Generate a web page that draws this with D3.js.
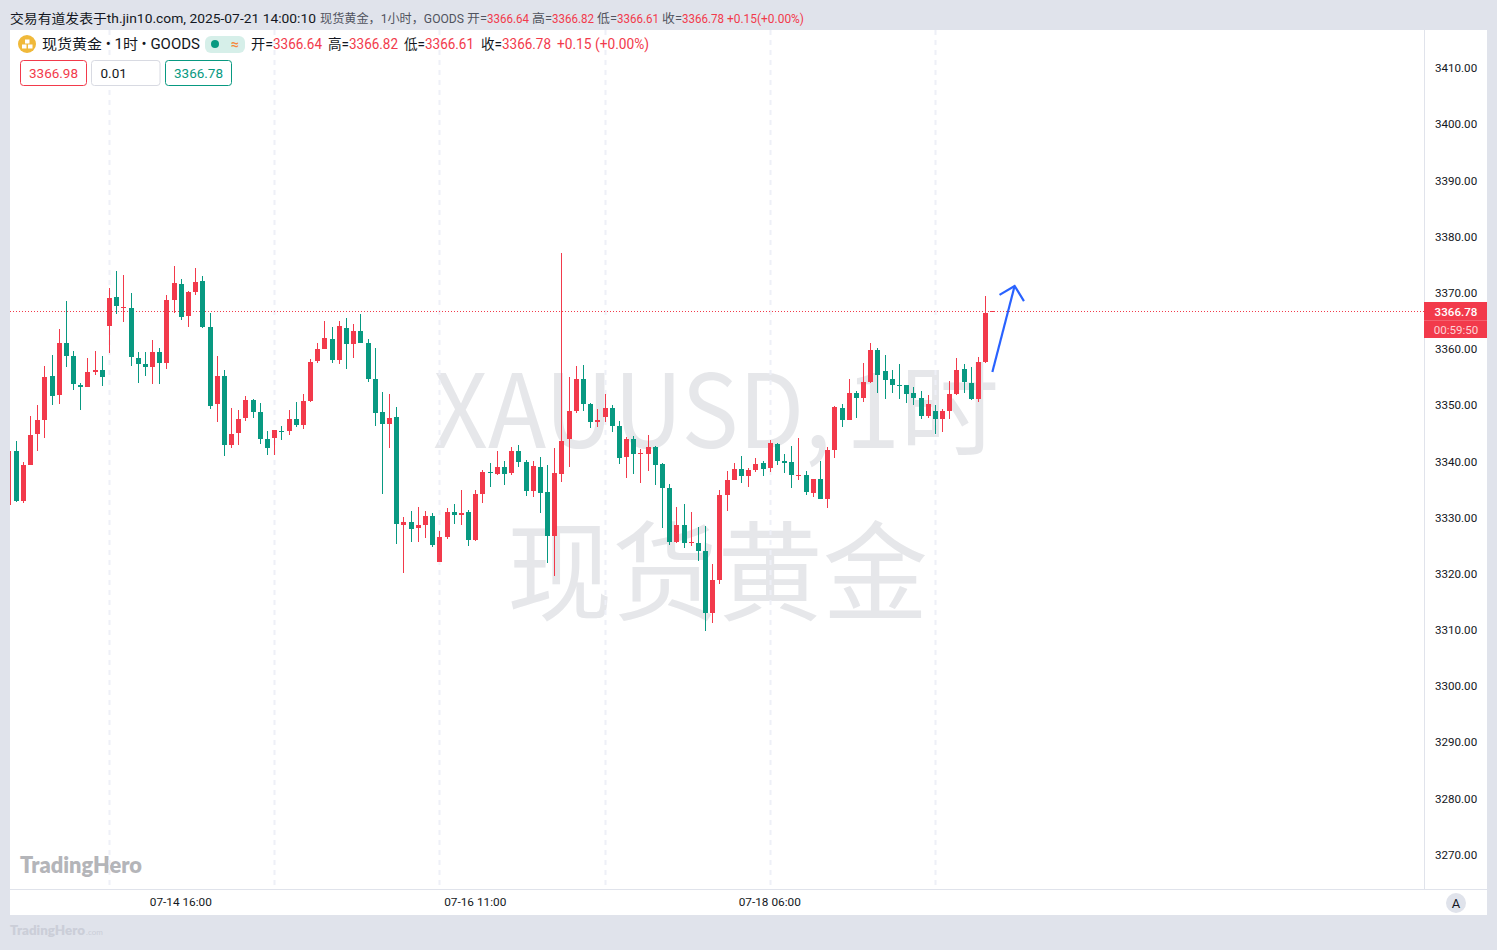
<!DOCTYPE html>
<html><head><meta charset="utf-8">
<script src="https://cdn.jsdelivr.net/npm/d3@7"></script>
<style>html,body{margin:0;padding:0;background:#e0e3eb;overflow:hidden}svg{display:block}text{font-family:Roboto,"Noto Sans CJK SC",sans-serif}</style>
</head><body><svg id="c" width="1497" height="950"></svg>
<script>
const open=[3332.30,3341.91,3333.01,3339.42,3344.94,3347.43,3355.26,3351.88,3361.14,3358.82,3353.66,3353.30,3355.98,3356.33,3364.16,3369.32,3367.37,3367.37,3358.47,3357.40,3356.87,3359.53,3357.58,3368.79,3371.64,3365.94,3370.21,3372.17,3363.98,3350.28,3355.26,3342.98,3345.12,3347.79,3350.99,3348.86,3344.05,3344.23,3345.47,3345.47,3347.61,3346.54,3350.81,3357.93,3360.07,3361.85,3358.11,3363.81,3360.96,3363.27,3361.14,3354.73,3348.86,3346.72,3347.97,3328.74,3329.28,3328.21,3328.74,3330.34,3322.16,3326.61,3331.06,3330.52,3331.06,3326.07,3334.26,3338.18,3337.82,3339.07,3338.00,3341.91,3339.95,3334.79,3339.07,3334.62,3326.79,3337.82,3344.05,3349.03,3354.73,3350.28,3347.07,3347.96,3349.57,3346.36,3340.85,3344.05,3341.38,3341.38,3342.62,3339.60,3335.33,3325.72,3328.74,3325.54,3325.54,3324.11,3313.08,3318.95,3334.08,3336.75,3338.71,3337.46,3338.53,3339.78,3338.89,3343.16,3340.13,3339.95,3337.46,3337.64,3334.44,3336.93,3333.37,3342.09,3349.57,3347.43,3352.24,3351.35,3354.19,3359.89,3356.15,3354.73,3353.66,3353.66,3352.24,3351.35,3348.14,3349.03,3347.61,3349.03,3352.06,3356.51,3354.02,3351.17,3357.76,3366.64];
const high=[3341.91,3343.69,3339.96,3348.14,3350.10,3357.04,3358.98,3363.63,3368.61,3359.71,3354.02,3358.47,3359.71,3358.82,3370.93,3373.95,3373.24,3370.04,3359.53,3359.53,3361.67,3360.25,3369.68,3374.84,3372.53,3370.39,3374.49,3373.06,3366.48,3358.82,3356.33,3349.57,3349.21,3351.70,3351.17,3350.46,3345.47,3345.65,3346.36,3349.21,3350.63,3352.06,3358.29,3361.14,3365.05,3363.98,3365.05,3365.59,3364.52,3366.30,3361.85,3360.25,3352.41,3352.06,3349.75,3330.17,3331.23,3331.95,3331.23,3330.88,3327.67,3331.77,3332.48,3334.97,3331.41,3334.97,3338.53,3339.78,3341.91,3340.13,3342.63,3342.98,3340.31,3340.13,3340.84,3339.42,3342.45,3377.16,3355.08,3357.04,3357.22,3350.46,3349.39,3352.06,3350.10,3347.25,3344.40,3344.58,3342.27,3344.76,3342.80,3339.78,3336.04,3331.95,3332.48,3331.06,3328.39,3328.56,3321.80,3334.97,3338.35,3339.78,3341.02,3338.89,3340.67,3340.13,3343.87,3343.34,3341.38,3342.80,3344.23,3338.35,3336.93,3340.13,3342.62,3349.92,3350.28,3354.73,3352.59,3357.58,3361.14,3360.25,3359.00,3356.33,3357.40,3353.66,3353.30,3352.59,3351.88,3350.10,3349.39,3354.37,3358.47,3357.40,3356.87,3358.64,3369.50,3366.82];
const low=[3332.30,3332.84,3332.66,3339.42,3341.91,3344.23,3350.10,3350.28,3356.87,3352.77,3349.21,3353.30,3355.44,3353.48,3359.36,3366.30,3364.87,3357.04,3354.02,3355.26,3353.84,3353.84,3356.51,3366.48,3365.23,3363.98,3369.68,3363.81,3349.39,3347.07,3341.00,3342.45,3342.98,3347.25,3347.79,3343.16,3341.20,3341.20,3343.87,3344.76,3346.18,3345.83,3350.63,3357.58,3360.07,3357.58,3357.40,3356.51,3358.47,3361.14,3354.20,3346.36,3334.26,3342.45,3325.36,3320.20,3325.72,3325.72,3326.43,3324.83,3322.16,3326.25,3328.92,3328.74,3325.00,3325.89,3332.66,3335.51,3337.64,3335.86,3337.64,3339.07,3333.90,3333.72,3330.88,3321.98,3319.66,3336.40,3339.07,3348.68,3349.03,3346.00,3346.18,3347.07,3345.29,3339.60,3337.11,3337.82,3336.22,3338.35,3335.86,3328.21,3325.18,3325.54,3324.65,3325.00,3322.33,3309.87,3311.30,3318.24,3331.23,3336.75,3336.22,3335.51,3338.17,3337.46,3338.17,3339.42,3337.99,3335.33,3336.75,3334.08,3333.72,3333.37,3331.77,3340.67,3346.18,3347.43,3347.79,3350.64,3354.02,3352.24,3351.17,3352.24,3351.17,3350.46,3350.10,3347.61,3347.79,3344.94,3345.30,3347.61,3351.88,3352.24,3350.99,3350.64,3357.58,3366.61];
const close=[3341.91,3333.01,3339.42,3344.76,3347.43,3355.09,3351.70,3361.14,3358.82,3353.84,3353.30,3355.98,3356.33,3355.09,3369.15,3367.72,3367.54,3358.65,3357.40,3356.87,3359.53,3357.58,3368.79,3371.82,3365.76,3370.21,3372.00,3363.98,3349.92,3355.26,3342.98,3344.94,3347.61,3350.99,3348.86,3344.05,3342.45,3345.65,3345.29,3347.61,3346.54,3350.81,3357.75,3360.07,3362.03,3358.11,3364.16,3360.96,3363.27,3361.14,3354.73,3348.68,3346.72,3347.79,3328.92,3329.28,3328.03,3328.74,3330.34,3325.18,3326.61,3331.06,3330.52,3330.88,3326.07,3334.26,3338.18,3338.00,3339.07,3337.82,3341.91,3339.95,3334.79,3339.24,3334.44,3326.79,3338.00,3343.69,3349.03,3354.73,3350.28,3347.07,3347.43,3349.57,3346.36,3340.67,3344.05,3341.38,3341.56,3342.62,3339.42,3335.33,3325.72,3328.74,3325.54,3325.72,3324.11,3313.08,3318.95,3334.08,3336.75,3338.71,3337.46,3338.53,3339.60,3338.71,3343.34,3340.13,3339.78,3337.64,3337.64,3334.62,3336.93,3333.37,3342.09,3349.75,3347.43,3352.24,3351.35,3354.19,3359.89,3355.44,3354.55,3353.66,3353.48,3352.06,3351.35,3348.14,3350.28,3347.61,3349.03,3352.06,3356.33,3354.19,3351.17,3357.76,3366.48,3366.78];
const gridBars=[14,37,60,83,106,129];
const timeBars=[24,65,106];
const timeLabels=["07-14 16:00","07-16 11:00","07-18 06:00"];
const priceTicks=[3270,3280,3290,3300,3310,3320,3330,3340,3350,3360,3370,3380,3390,3400,3410];
const arrowShaft=[[137,3355.98],[140.1,3371.29]];
const arrowHead=[[138,3369.7],[140.1,3371.29],[141.4,3368.6]];

const RED="#f23a4b",GREEN="#089981",BG="#e0e3eb";
const x=d3.scaleLinear().domain([14,129]).range([109,934.9]);
const y=d3.scaleLinear().domain([3270,3410]).range([855,68.5]);
const svg=d3.select("#c");
svg.append("defs").append("clipPath").attr("id","pl").append("rect").attr("x",10).attr("y",30).attr("width",1414).attr("height",859);
svg.append("rect").attr("x",10).attr("y",30).attr("width",1477).attr("height",885).attr("fill","#fff");

function T(g,px,py,s,o={}){const t=g.append("text").attr("x",px).attr("y",py).text(s)
 .attr("font-size",o.size||12).attr("fill",o.fill||"#131722");
 if(o.len){t.attr("textLength",o.len).attr("lengthAdjust","spacingAndGlyphs");}
 if(o.anchor)t.attr("text-anchor",o.anchor);
 if(o.weight)t.attr("font-weight",o.weight);
 if(o.family)t.style("font-family",o.family);
 return t;}

const plot=svg.append("g").attr("clip-path","url(#pl)");
// watermark
T(plot,433,448,"XAUUSD,",{size:102,fill:"#e6e7ea",len:398,family:'"Noto Sans CJK SC"'});
T(plot,845,448,"1时",{size:102,fill:"#e6e7ea",len:154,family:'"Noto Sans CJK SC"'});
T(plot,507,612,"现货黄金",{size:108,fill:"#e6e7ea",len:421,family:'"Noto Sans CJK SC"'});
T(plot,20,873,"TradingHero",{size:22,fill:"#b4b5b9",weight:800,len:122,family:"Lato,Roboto"});
// grid
plot.selectAll(".g").data(gridBars).join("line").attr("x1",d=>Math.round(x(d))+.5).attr("x2",d=>Math.round(x(d))+.5).attr("y1",30).attr("y2",889)
 .attr("stroke","#eef0f7").attr("stroke-width",2).attr("stroke-dasharray","5 5");
// price line
const lastClose=close[close.length-1];
plot.append("line").attr("x1",10).attr("x2",1424).attr("y1",Math.round(y(lastClose))+.5).attr("y2",Math.round(y(lastClose))+.5)
 .attr("stroke",RED).attr("stroke-dasharray","1 2").attr("stroke-width",1);
// candles
const idx=d3.range(open.length);
const col=i=>close[i]>=open[i]?RED:GREEN;
const cx=i=>Math.round(x(i));
plot.selectAll(".w").data(idx).join("rect").attr("x",cx).attr("width",1)
 .attr("y",i=>Math.round(y(high[i]))).attr("height",i=>Math.max(1,Math.round(y(low[i]))-Math.round(y(high[i])))).attr("fill",col);
plot.selectAll(".b").data(idx).join("rect").attr("x",i=>cx(i)-2).attr("width",5)
 .attr("y",i=>Math.round(y(Math.max(open[i],close[i])))).attr("height",i=>Math.max(1,Math.round(y(Math.min(open[i],close[i])))-Math.round(y(Math.max(open[i],close[i]))))).attr("fill",col);
// arrow
const ln=d3.line().x(d=>x(d[0])).y(d=>y(d[1]));
[arrowShaft,arrowHead].forEach(a=>plot.append("path").attr("d",ln(a)).attr("fill","none").attr("stroke","#2962ff").attr("stroke-width",2.2));
// frame
svg.append("rect").attr("x",1424).attr("y",30).attr("width",1).attr("height",859).attr("fill",BG);
svg.append("rect").attr("x",10).attr("y",889).attr("width",1477).attr("height",1).attr("fill",BG);
// y axis
const ya=svg.append("g").attr("transform","translate(1424,-0.4)").call(d3.axisRight(y).tickValues(priceTicks).tickSize(0).tickPadding(11).tickFormat(d=>d.toFixed(2)));
ya.select(".domain").remove();
ya.selectAll("text").attr("font-size",11.6).attr("fill","#131722").style("font-family","Roboto");
// x axis
const xa=svg.append("g").attr("transform","translate(0,889)").call(d3.axisBottom(x).tickValues(timeBars).tickSize(0).tickPadding(9).tickFormat((d,i)=>timeLabels[i]));
xa.select(".domain").remove();
xa.selectAll("text").attr("font-size",11.8).attr("fill","#131722").attr("dx",-0.5).style("font-family","Roboto");
// price tags
const py=Math.round(y(lastClose));
svg.append("rect").attr("x",1424).attr("y",py-9).attr("width",63).attr("height",18).attr("fill",RED);
svg.append("rect").attr("x",1424).attr("y",py+9).attr("width",63).attr("height",18).attr("fill",RED);
svg.append("rect").attr("x",1424).attr("y",py+9).attr("width",63).attr("height",1).attr("fill","#f4606e");
T(svg,1456,py+4.5,lastClose.toFixed(2),{fill:"#fff",anchor:"middle",size:11.6,weight:500});
T(svg,1456,py+22.5,"00:59:50",{fill:"#fdd2d6",anchor:"middle",size:11.6});
// auto button
svg.append("circle").attr("cx",1456).attr("cy",903).attr("r",10).attr("fill",BG);
T(svg,1456,907.5,"A",{anchor:"middle",size:13});
// top line
const G="#50535e";
T(svg,10,23,"交易有道发表于th.jin10.com, 2025-07-21 14:00:10",{size:13,len:306});
T(svg,320,23,"现货黄金，1小时，GOODS",{size:12,fill:G,len:144});
[[467,"开=",G,20],[487,"3366.64",RED,42],[532,"高=",G,20],[552,"3366.82",RED,42],[597,"低=",G,20],[617,"3366.61",RED,42],[662,"收=",G,20],[682,"3366.78",RED,42],[727,"+0.15(+0.00%)",RED,77]]
 .forEach(a=>T(svg,a[0],23,a[1],{size:12,fill:a[2],len:a[3]}));
// legend
svg.append("circle").attr("cx",27).attr("cy",44).attr("r",9).attr("fill","#f0b93a");
[[25,39.5],[22,44.5],[28,44.5]].forEach(p=>svg.append("rect").attr("x",p[0]).attr("y",p[1]).attr("width",4.5).attr("height",4).attr("fill","#fff"));
T(svg,42,49,"现货黄金 • 1时 • GOODS",{size:14,len:158});
svg.append("rect").attr("x",205).attr("y",36).attr("width",40).attr("height",17).attr("rx",6).attr("fill","#d6efe9");
svg.append("circle").attr("cx",215).attr("cy",44).attr("r",4).attr("fill",GREEN);
T(svg,235,49,"≈",{size:14,fill:"#f5883b",anchor:"middle",weight:700});
[[251,"开=","#131722",22],[273,"3366.64",RED,49],[328,"高=","#131722",21],[349,"3366.82",RED,49],[404,"低=","#131722",21],[425,"3366.61",RED,49],[481,"收=","#131722",21],[502,"3366.78",RED,49],[557,"+0.15 (+0.00%)",RED,92]]
 .forEach(a=>T(svg,a[0],49,a[1],{size:14,fill:a[2],len:a[3]}));
// order boxes
[[20.5,66,RED,"3366.98",RED,"middle"],[91.5,68.5,"#d8dae2","0.01","#131722","start"],[165.5,66,GREEN,"3366.78",GREEN,"middle"]].forEach(b=>{
 svg.append("rect").attr("x",b[0]).attr("y",60.5).attr("width",b[1]).attr("height",25).attr("rx",3).attr("fill","#fff").attr("stroke",b[2]);
 T(svg,b[5]=="middle"?b[0]+b[1]/2:b[0]+9,78,b[3],{size:13.5,fill:b[4],anchor:b[5]});
});
// footer
const foot=T(svg,10,935,"TradingHero",{size:13.4,fill:"#cbced8",weight:800,family:"Lato,Roboto"});
foot.append("tspan").attr("font-size",8).attr("font-weight",400).attr("dx",1).text(".com");
</script></body></html>
